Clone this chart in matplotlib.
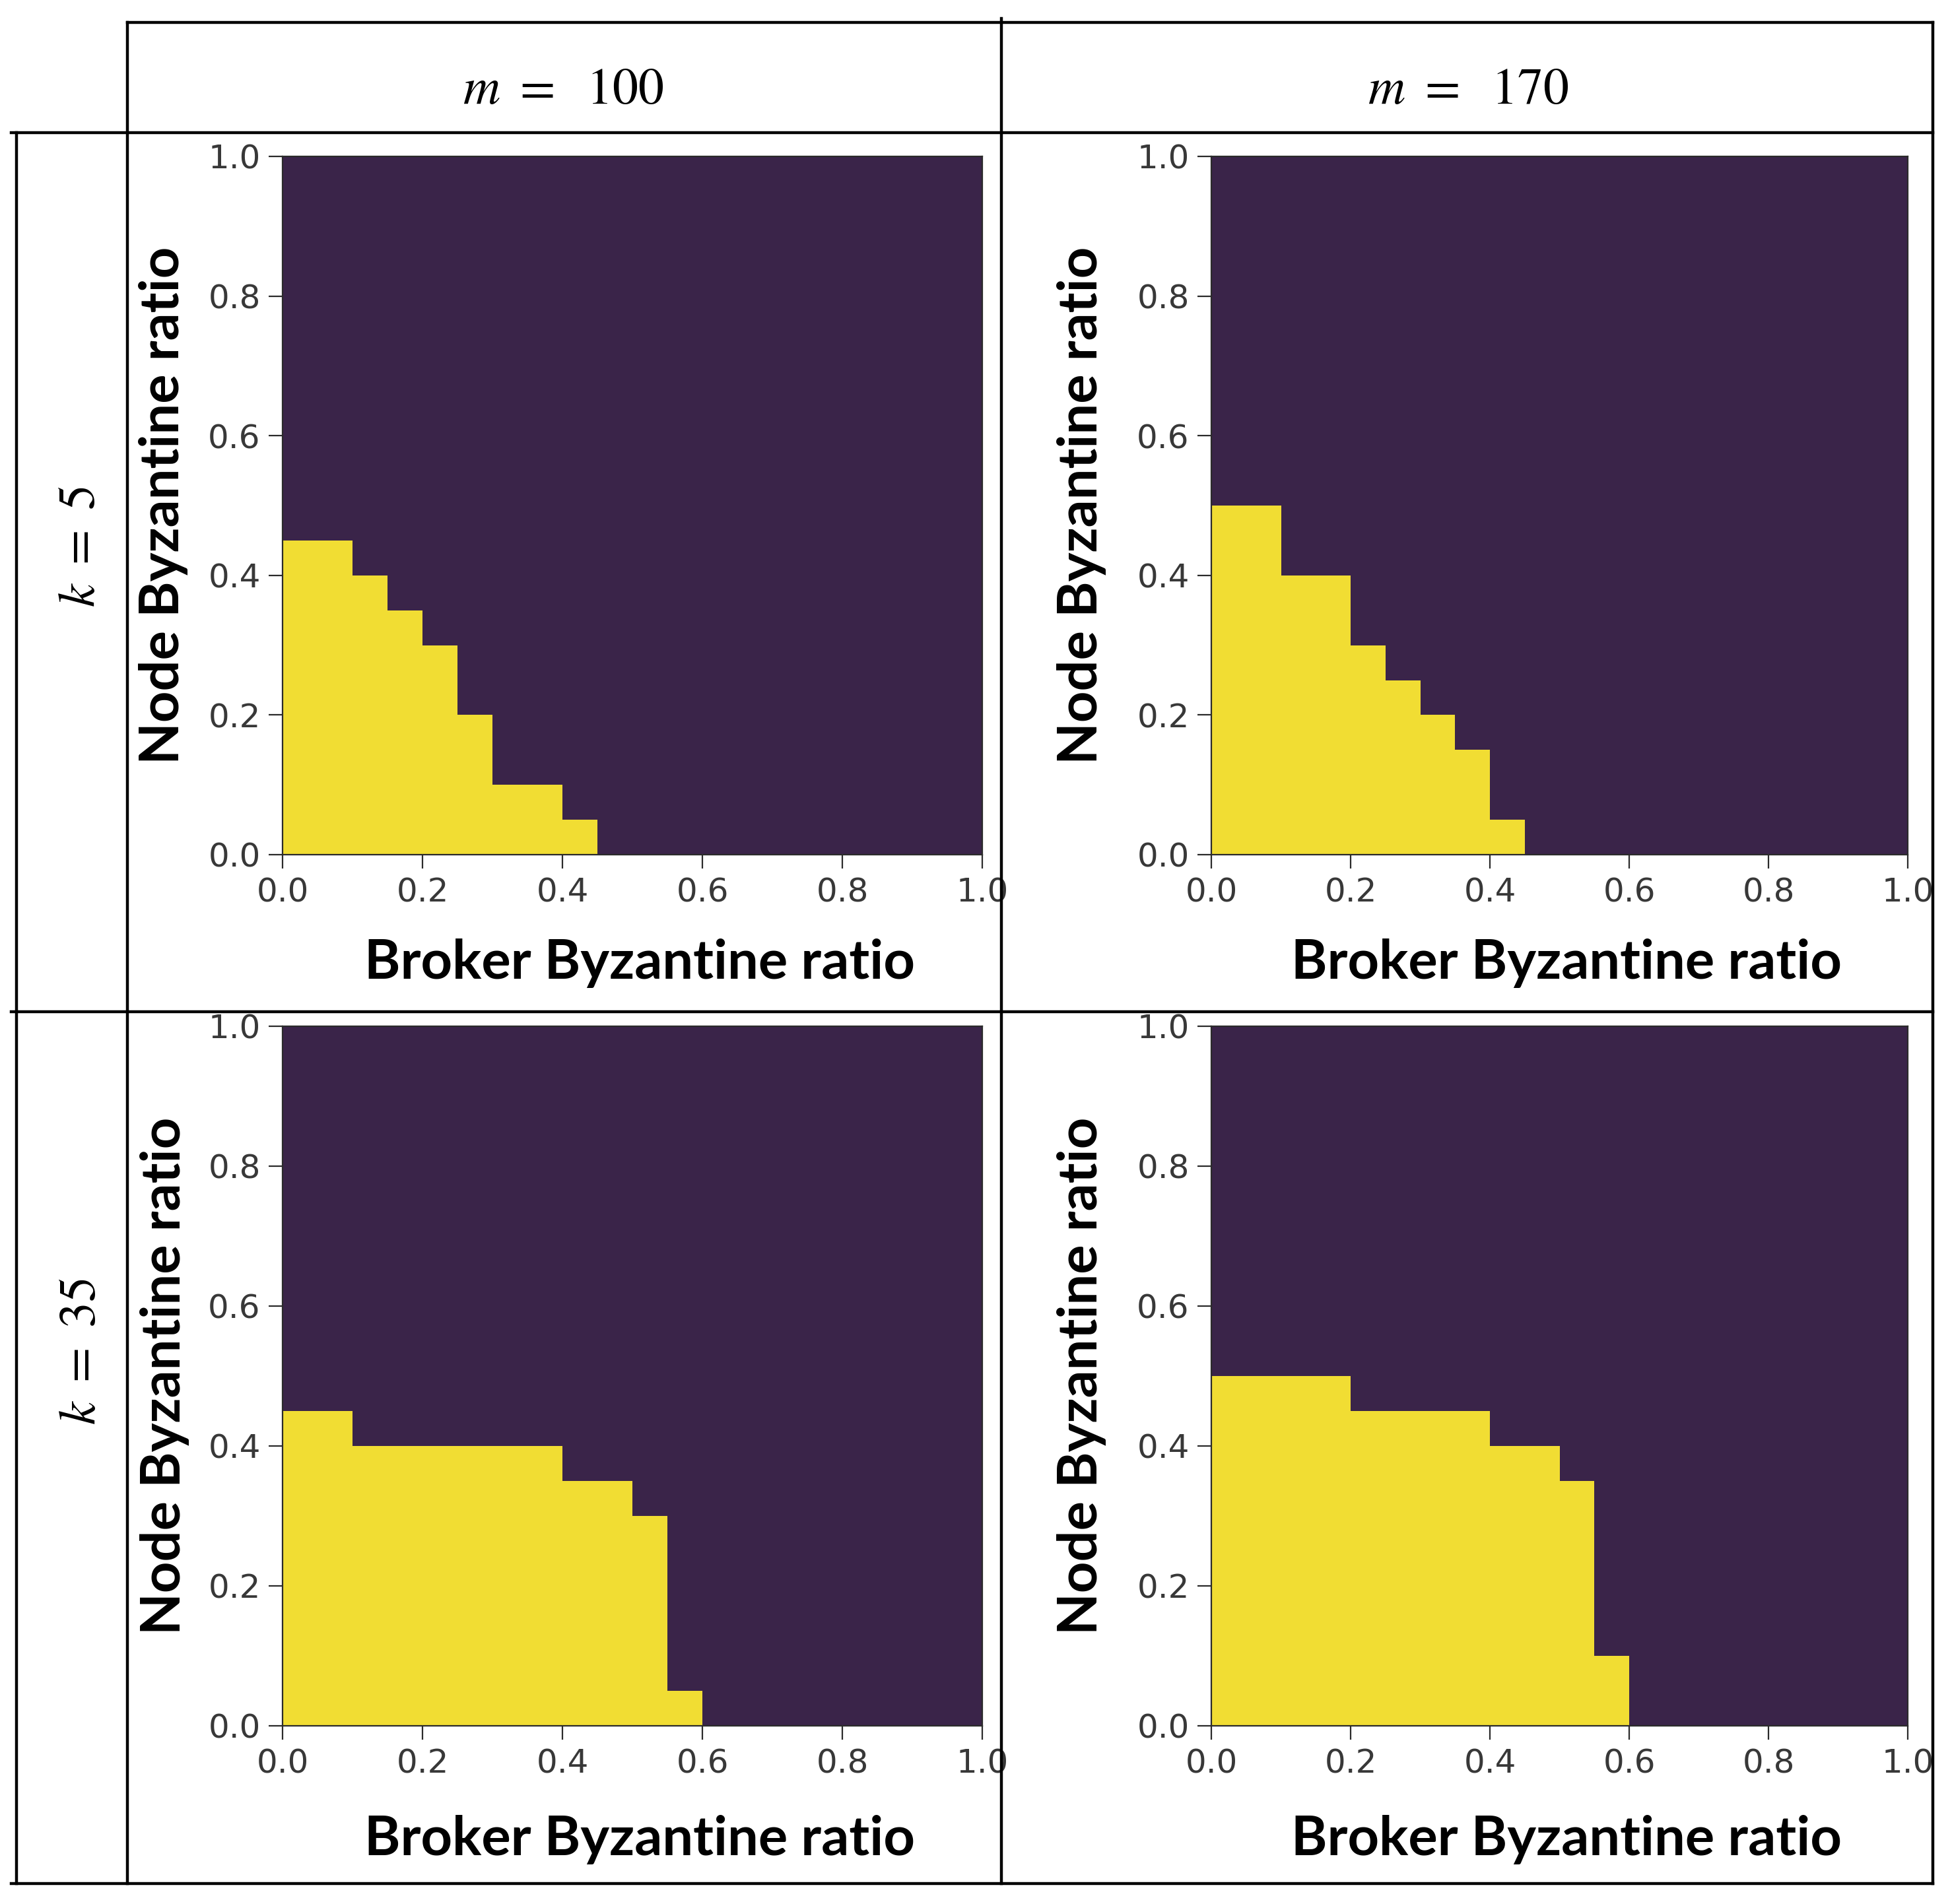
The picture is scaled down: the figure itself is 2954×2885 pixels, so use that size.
import matplotlib
matplotlib.use('Agg')
import matplotlib.pyplot as plt
import numpy as np
from matplotlib.colors import ListedColormap
from matplotlib.lines import Line2D

plt.rcParams['mathtext.fontset'] = 'stix'

# Broker / node Byzantine ratio grid (bin edges, step 0.05)
ratio_edges = np.round(np.linspace(0, 1, 21), 2)
ticks = [0.0, 0.2, 0.4, 0.6, 0.8, 1.0]
tick_labels = ['0.0', '0.2', '0.4', '0.6', '0.8', '1.0']

# Highest node ratio still tolerated for each broker ratio bin (yellow area)
limit_k5_m100 = [0.45, 0.45, 0.40, 0.35, 0.30, 0.20, 0.10, 0.10, 0.05] + [0.0] * 11
limit_k5_m170 = [0.50, 0.50, 0.40, 0.40, 0.30, 0.25, 0.20, 0.15, 0.05] + [0.0] * 11
limit_k35_m100 = [0.45, 0.45, 0.40, 0.40, 0.40, 0.40, 0.40, 0.40, 0.35, 0.35, 0.30, 0.05] + [0.0] * 8
limit_k35_m170 = [0.50, 0.50, 0.50, 0.50, 0.45, 0.45, 0.45, 0.45, 0.40, 0.40, 0.35, 0.10] + [0.0] * 8

col_titles = [r'$m\ =\ \ 100$', r'$m\ =\ \ 170$']
row_titles = [r'$k\ =\ 5$', r'$k\ =\ 35$']

COLOR_BAD = '#3a2449'
COLOR_OK = '#f1dd33'
cmap = ListedColormap([COLOR_BAD, COLOR_OK])

W, H = 2954, 2885
fig = plt.figure(figsize=(W / 100, H / 100), dpi=100)
fig.patch.set_facecolor('white')


def fx(x):
    return x / W


def fy(y):
    return 1 - y / H


# axes boxes in pixels: left, top, right, bottom
boxes = [
    (428, 237, 1488, 1295),
    (1835, 237, 2890, 1295),
    (428, 1555, 1488, 2615),
    (1835, 1555, 2890, 2615),
]
limits = [limit_k5_m100, limit_k5_m170, limit_k35_m100, limit_k35_m170]
ylabel_x = [-0.170, -0.186, -0.168, -0.186]
xlabel_y = [-0.178, -0.178, -0.185, -0.185]

node_centers = ratio_edges[:-1] + 0.025
axes = []
for i, (box, lim) in enumerate(zip(boxes, limits)):
    l, t, r, b = box
    ax = fig.add_axes([fx(l), fy(b), fx(r) - fx(l), fy(t) - fy(b)])
    grid = (node_centers[:, None] < np.array(lim)[None, :]).astype(float)
    ax.pcolormesh(ratio_edges, ratio_edges, grid, cmap=cmap, vmin=0, vmax=1,
                  shading='flat', antialiased=False)
    ax.set_xlim(0, 1)
    ax.set_ylim(0, 1)
    ax.set_xticks(ticks)
    ax.set_yticks(ticks)
    ax.set_xticklabels(tick_labels)
    ax.set_yticklabels(tick_labels)
    ax.tick_params(labelsize=36, length=15, width=1.6, pad=9,
                   colors='#2b2b2b', labelcolor='#383838')
    for sp in ax.spines.values():
        sp.set_linewidth(1.6)
        sp.set_color('#2b2b2b')
    ax.set_xlabel('Broker Byzantine ratio', fontsize=62, fontweight='bold',
                  family='Lato', va='baseline')
    ax.set_ylabel('Node Byzantine ratio', fontsize=62, fontweight='bold',
                  family='Lato', va='center')
    ax.xaxis.set_label_coords(0.51, xlabel_y[i])
    ax.yaxis.set_label_coords(ylabel_x[i], 0.5)
    axes.append(ax)

# fit label size to the width seen in the picture
fig.canvas.draw()
rend = fig.canvas.get_renderer()
w0 = axes[0].xaxis.label.get_window_extent(rend).width
fs = 62 * 835 / w0
for ax in axes:
    ax.xaxis.label.set_fontsize(fs)
    ax.yaxis.label.set_fontsize(fs)

# column / row headers
fig.text(fx(853), fy(157), col_titles[0], fontsize=56, ha='center', va='baseline')
fig.text(fx(2224), fy(157), col_titles[1], fontsize=56, ha='center', va='baseline')
fig.text(fx(121), fy(828), row_titles[0], fontsize=56, ha='center', va='center', rotation=90)
fig.text(fx(122), fy(2048), row_titles[1], fontsize=56, ha='center', va='center', rotation=90)

# table grid lines
LW = 3.2
table_lines = [
    ((25, 201), (25, 2854)),
    ((193, 34), (193, 2854)),
    ((1517, 28), (1517, 2854)),
    ((2928, 34), (2928, 2854)),
    ((193, 34), (2928, 34)),
    ((17, 201), (2928, 201)),
    ((17, 1533), (2928, 1533)),
    ((17, 2854), (2928, 2854)),
]
for (x0, y0), (x1, y1) in table_lines:
    fig.add_artist(Line2D([fx(x0), fx(x1)], [fy(y0), fy(y1)], transform=fig.transFigure,
                          color='black', linewidth=LW, solid_capstyle='projecting', zorder=5))

plt.savefig('out.png', dpi=100, facecolor='white')
plt.close()
